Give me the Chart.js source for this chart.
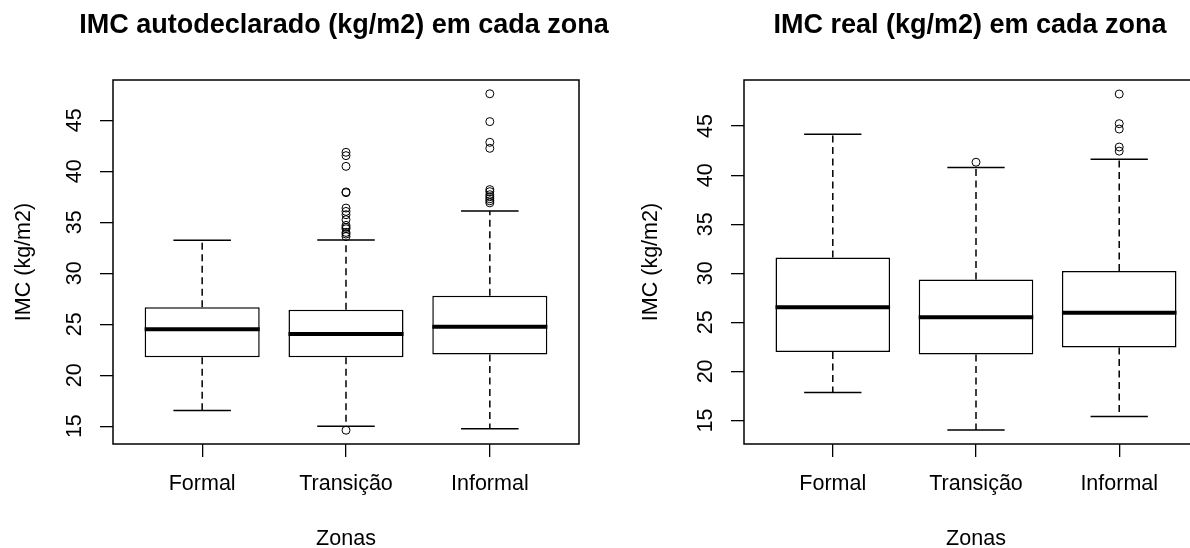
<!DOCTYPE html>
<html>
<head>
<meta charset="utf-8">
<script src="https://cdn.jsdelivr.net/npm/chart.js@4/dist/chart.umd.min.js"></script>
<style>
  html, body { margin: 0; padding: 0; background: #fff; overflow: hidden; }
  canvas { position: absolute; top: 0; }
  #graficoAuto { left: 0; }
  #graficoReal { left: 631px; }
</style>
</head>
<body>
<canvas id="graficoAuto" width="688" height="560"></canvas>
<canvas id="graficoReal" width="678" height="560"></canvas>
<script>
const zonas = ["Formal", "Transição", "Informal"];
const yTicks = [15, 20, 25, 30, 35, 40, 45];

// IMC autodeclarado: bigodes, quartis e mediana por zona
const autoMin = [16.54, 15.0, 14.74];
const autoQ1 = [21.75, 21.75, 22.02];
const autoMediana = [24.51, 24.05, 24.74];
const autoQ3 = [26.67, 26.41, 27.79];
const autoMax = [33.23, 33.25, 36.11];
const autoOutFormal = [];
const autoOutTransicao = [14.6, 33.6, 33.84, 34.0, 34.36, 34.5, 34.69, 35.25, 35.74, 36.06, 36.39, 37.9, 37.97, 40.48, 41.53, 41.86];
const autoOutInformal = [36.9, 37.1, 37.3, 37.5, 37.7, 38.0, 38.2, 42.25, 42.84, 44.87, 47.6];

// IMC real (medido)
const realMin = [17.86, 14.02, 15.41];
const realQ1 = [21.98, 21.71, 22.43];
const realMediana = [26.55, 25.52, 25.97];
const realQ3 = [31.62, 29.37, 30.22];
const realMax = [44.18, 40.78, 41.63];
const realOutFormal = [];
const realOutTransicao = [41.32];
const realOutInformal = [42.45, 42.87, 44.7, 45.25, 48.27];

Chart.defaults.font.family = "'Liberation Sans', Arial, sans-serif";
Chart.defaults.color = "#000";

// bigodes tracejados, hastes e mediana grossa, mais a moldura do painel
function caixasPlugin(min, mediana, max) {
    return {
        id: "caixas",
        afterDatasetsDraw(chart) {
            const { ctx, chartArea: area, scales: { x, y } } = chart;
            const barras = chart.getDatasetMeta(0).data;
            ctx.save();
            ctx.strokeStyle = "#000";
            ctx.lineCap = "butt";
            zonas.forEach((zona, i) => {
                const cx = x.getPixelForValue(i + 1);
                const meiaHaste = x.getPixelForValue(i + 1.2) - cx;
                const meiaCaixa = barras[i].width / 2;
                const topo = barras[i].y;
                const base = barras[i].base;
                const yMin = y.getPixelForValue(min[i]);
                const yMax = y.getPixelForValue(max[i]);

                ctx.lineWidth = 1.5;
                ctx.setLineDash([7, 4.5]);
                ctx.beginPath();
                ctx.moveTo(cx, Math.min(topo, base));
                ctx.lineTo(cx, yMax);
                ctx.moveTo(cx, Math.max(topo, base));
                ctx.lineTo(cx, yMin);
                ctx.stroke();

                ctx.setLineDash([]);
                ctx.beginPath();
                ctx.moveTo(cx - meiaHaste, yMax);
                ctx.lineTo(cx + meiaHaste, yMax);
                ctx.moveTo(cx - meiaHaste, yMin);
                ctx.lineTo(cx + meiaHaste, yMin);
                ctx.stroke();

                const yMed = y.getPixelForValue(mediana[i]);
                ctx.lineWidth = 4;
                ctx.beginPath();
                ctx.moveTo(cx - meiaCaixa, yMed);
                ctx.lineTo(cx + meiaCaixa, yMed);
                ctx.stroke();
            });
            ctx.lineWidth = 1.5;
            ctx.strokeRect(area.left, area.top, area.width, area.height);
            ctx.restore();
        },
    };
}

// margemDireita: eixo vazio à direita, só para centrar o título largo
function boxplot(id, titulo, min, q1, mediana, q3, max, outliers, yMin, yMax, padTituloY, margemDireita) {
    const ctx = document.getElementById(id).getContext("2d");
    const eixoTicks = { drawOnChartArea: false, tickLength: 13, color: "#000", lineWidth: 1.3, offset: false };
    return new Chart(ctx, {
        type: "bar",
        data: {
            datasets: [
                {
                    type: "bar",
                    data: zonas.map((z, i) => ({ x: i + 1, y: [q1[i], q3[i]] })),
                    backgroundColor: "#fff",
                    borderColor: "#000",
                    borderWidth: 1.5,
                    borderSkipped: false,
                    barPercentage: 0.8,
                    categoryPercentage: 1,
                },
                {
                    type: "scatter",
                    data: outliers.flatMap((vals, i) => vals.map((v) => ({ x: i + 1, y: v }))),
                    pointStyle: "circle",
                    pointRadius: 4,
                    borderWidth: 1,
                    borderColor: "#000",
                    backgroundColor: "rgba(0,0,0,0)",
                },
            ],
        },
        options: {
            responsive: false,
            animation: false,
            events: [],
            layout: { padding: 0 },
            plugins: {
                legend: { display: false },
                tooltip: { enabled: false },
                title: {
                    display: true,
                    text: titulo,
                    color: "#000",
                    font: { size: 27, weight: "bold", lineHeight: 1.2 },
                    padding: { top: 9.8, bottom: 37.8 },
                },
            },
            scales: {
                x: {
                    type: "linear",
                    offset: false,
                    min: 0.38,
                    max: 3.62,
                    afterBuildTicks: (s) => { s.ticks = zonas.map((z, i) => ({ value: i + 1 })); },
                    afterFit: (s) => { s.height = 116; },
                    ticks: {
                        callback: (v) => zonas[v - 1],
                        font: { size: 21.5 },
                        color: "#000",
                        padding: 14,
                        maxRotation: 0,
                        autoSkip: false,
                    },
                    grid: eixoTicks,
                    border: { display: false },
                    title: {
                        display: true,
                        text: "Zonas",
                        color: "#000",
                        font: { size: 21.5, lineHeight: 1.2 },
                        padding: { top: 0, bottom: 8 },
                    },
                },
                y: {
                    min: yMin,
                    max: yMax,
                    afterBuildTicks: (s) => { s.ticks = yTicks.map((v) => ({ value: v })); },
                    afterFit: (s) => { s.width = 113; },
                    ticks: {
                        minRotation: 90,
                        maxRotation: 90,
                        crossAlign: "center",
                        padding: 13,
                        font: { size: 21.5 },
                        color: "#000",
                    },
                    grid: eixoTicks,
                    border: { display: false },
                    title: {
                        display: true,
                        text: "IMC (kg/m2)",
                        color: "#000",
                        font: { size: 21.5, lineHeight: 1.2 },
                        padding: { top: padTituloY, bottom: 0 },
                    },
                },
                margem: {
                    position: "right",
                    afterFit: (s) => { s.width = margemDireita; },
                    ticks: { display: false },
                    grid: { display: false },
                    border: { display: false },
                },
            },
        },
        plugins: [caixasPlugin(min, mediana, max)],
    });
}

boxplot("graficoAuto", "IMC autodeclarado (kg/m2) em cada zona",
    autoMin, autoQ1, autoMediana, autoQ3, autoMax,
    [autoOutFormal, autoOutTransicao, autoOutInformal], 13.25, 48.95, 11, 109);

boxplot("graficoReal", "IMC real (kg/m2) em cada zona",
    realMin, realQ1, realMediana, realQ3, realMax,
    [realOutFormal, realOutTransicao, realOutInformal], 12.6, 49.7, 7, 101);
</script>
</body>
</html>
